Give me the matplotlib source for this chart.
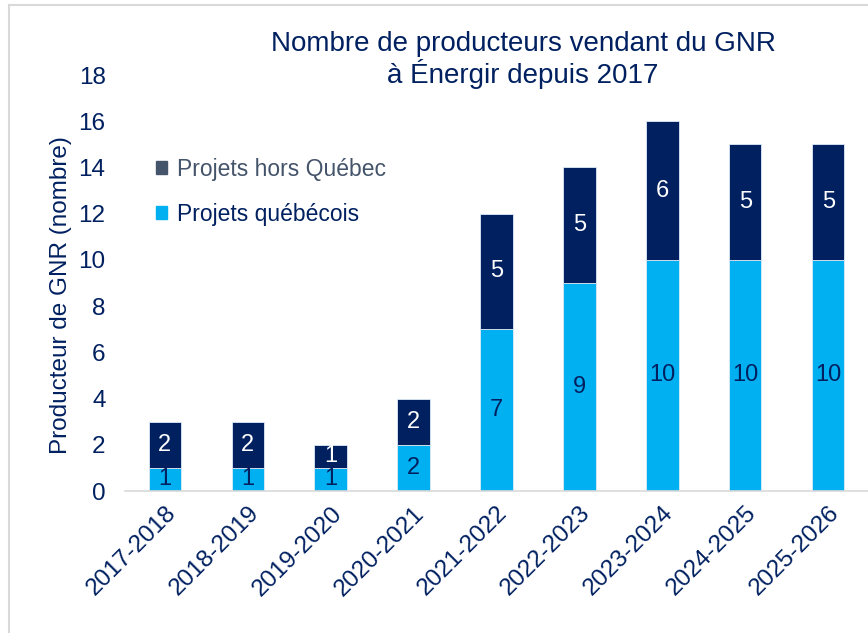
import matplotlib.pyplot as plt
from matplotlib.patches import Patch
from matplotlib.lines import Line2D

plt.rcParams['font.family'] = ['Liberation Sans', 'DejaVu Sans']

annees = ['2017-2018', '2018-2019', '2019-2020', '2020-2021', '2021-2022',
          '2022-2023', '2023-2024', '2024-2025', '2025-2026']
quebecois = [1, 1, 1, 2, 7, 9, 10, 10, 10]
hors_quebec = [2, 2, 1, 2, 5, 5, 6, 5, 5]

navy = '#002060'
cyan = '#00B0F0'

fig = plt.figure(figsize=(8.68, 6.33), dpi=100)
ax = fig.add_axes([125/868, 1 - 491/633, (868-125)/868, (491-75)/633])

x = range(len(annees))
b1 = ax.bar(x, quebecois, width=0.39, color=cyan, edgecolor='#DDEBF7', linewidth=0.6)
b2 = ax.bar(x, hors_quebec, width=0.39, bottom=quebecois, color=navy,
            edgecolor='#DDEBF7', linewidth=0.6)

for i in x:
    ax.text(i, quebecois[i]/2, str(quebecois[i]), ha='center', va='center',
            color=navy, fontsize=17)
    ax.text(i, quebecois[i] + hors_quebec[i]/2, str(hors_quebec[i]), ha='center',
            va='center', color='white', fontsize=17)

ax.set_xlim(-0.48, 8.48)
ax.set_ylim(0, 18)
ax.set_yticks(range(0, 19, 2))
ax.set_xticks(list(x))
ax.set_xticklabels(annees, rotation=45, ha='right', rotation_mode='anchor')
ax.tick_params(axis='both', length=0, colors=navy, labelsize=17.5)
ax.tick_params(axis='y', pad=14)
ax.tick_params(axis='x', pad=8)
for s in ['top', 'right', 'left']:
    ax.spines[s].set_visible(False)
ax.spines['bottom'].set_color('#D9D9D9')
ax.spines['bottom'].set_linewidth(1.2)

ax.set_ylabel('Producteur de GNR (nombre)', color=navy, fontsize=17.5)
ax.yaxis.set_label_coords(-0.072, 0.47)

fig.text(523/868, 1 - 60/633, 'Nombre de producteurs vendant du GNR\nà Énergir depuis 2017',
         ha='center', va='center', color=navy, fontsize=20, linespacing=1.1)

handles = [Patch(color='#44546A'), Patch(color=cyan)]
leg = ax.legend(handles, ['Projets hors Québec', 'Projets québécois'],
                loc='upper left', bbox_to_anchor=(0.014, 0.85), frameon=False,
                fontsize=16.5, handlelength=0.5, handleheight=0.5, handletextpad=0.4,
                labelspacing=0.95)
leg.get_texts()[0].set_color('#44546A')
leg.get_texts()[1].set_color(navy)

# bordure
fig.add_artist(Line2D([9/868, 1], [1 - 5/633, 1 - 5/633], color='#D9D9D9', lw=1.5))
fig.add_artist(Line2D([9/868, 9/868], [0, 1 - 5/633], color='#D9D9D9', lw=1.5))

fig.savefig('out.png', dpi=100)
